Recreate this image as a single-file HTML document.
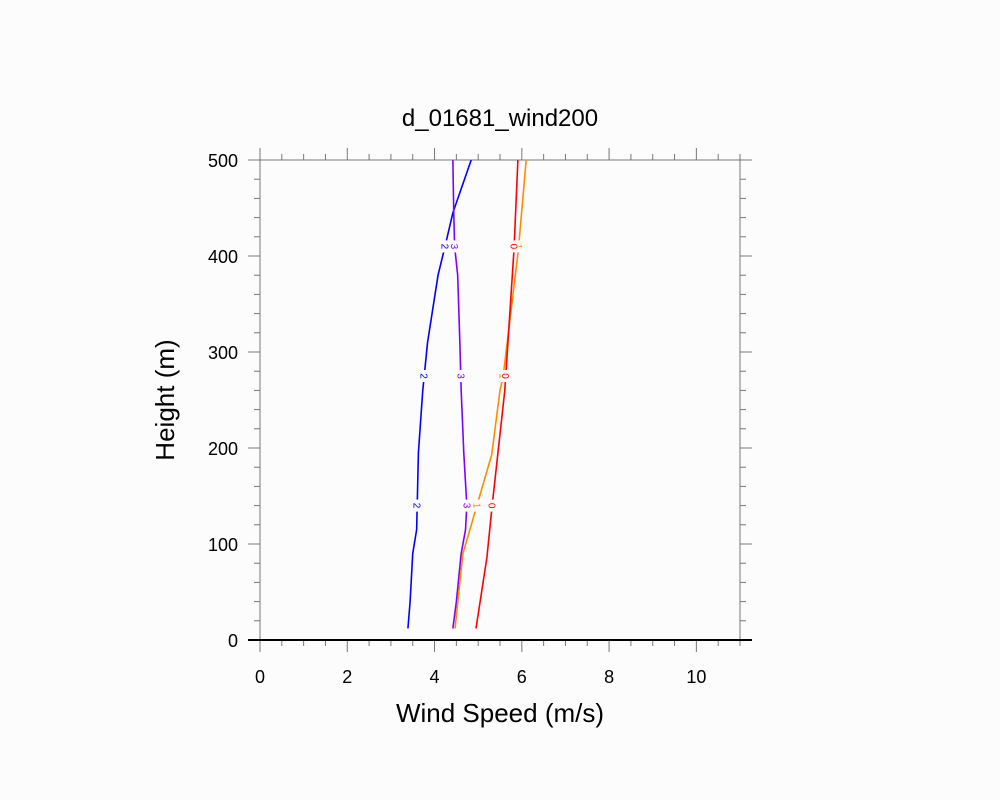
<!DOCTYPE html>
<html><head><meta charset="utf-8"><style>body{margin:0;background:#fcfcfc}svg{display:block}</style></head>
<body>
<svg id="chart" width="1000" height="800" xmlns="http://www.w3.org/2000/svg" font-family="Liberation Sans, sans-serif">
<rect width="1000" height="800" fill="#fcfcfc"/>
<text x="500" y="126" font-size="24" text-anchor="middle">d_01681_wind200</text>
<text x="500" y="722" font-size="26" text-anchor="middle">Wind Speed (m/s)</text>
<text x="174" y="400" font-size="26" text-anchor="middle" transform="rotate(-90 174 400)">Height (m)</text>
<g id="axes"></g>
<g id="series"></g>
</svg>
<script>
const xTicks=[0,2,4,6,8,10];
const yTicks=[0,100,200,300,400,500];
const blueH=[12,40,90,115,195,260,310,380,410,445,500];
const blueV=[3.39,3.44,3.5,3.59,3.63,3.73,3.84,4.08,4.24,4.42,4.84];
const purpleH=[12,40,90,115,140,195,260,310,380,410,445,500];
const purpleV=[4.42,4.5,4.61,4.71,4.74,4.67,4.61,4.58,4.53,4.46,4.44,4.42];
const orangeH=[12,90,140,193,260,274,406,500];
const orangeV=[4.47,4.65,4.97,5.31,5.5,5.57,5.92,6.1];
const redH=[12,86,140,260,274,406,500];
const redV=[4.95,5.2,5.32,5.61,5.63,5.82,5.91];
const labelH=[140,275,410];
const X=v=>260+v*480/11, Y=h=>640-h*0.96;
const NS="http://www.w3.org/2000/svg";
function mk(t,a,p){const e=document.createElementNS(NS,t);for(const k in a)e.setAttribute(k,a[k]);p.appendChild(e);return e;}
const ax=document.getElementById('axes');
const box=mk('rect',{x:260,y:160,width:480,height:480,fill:'none',stroke:'#777','stroke-width':1},ax);


for(let v=0;v<=11.001;v+=0.5){const maj=Math.abs(v/2-Math.round(v/2))<1e-6;const L=maj?12:6;
 mk('line',{x1:X(v),x2:X(v),y1:640,y2:640+L,stroke:'#777'},ax);
 mk('line',{x1:X(v),x2:X(v),y1:160,y2:160-L,stroke:'#777'},ax);}
for(let h=0;h<=500;h+=20){const maj=h%100===0;const L=maj?12:6;
 mk('line',{x1:260,x2:260-L,y1:Y(h),y2:Y(h),stroke:'#777'},ax);
 mk('line',{x1:740,x2:740+L,y1:Y(h),y2:Y(h),stroke:'#777'},ax);}
xTicks.forEach(v=>{const t=mk('text',{x:X(v),y:683,'font-size':18,'text-anchor':'middle'},ax);t.textContent=v;
 
 });
yTicks.forEach(h=>{const t=mk('text',{x:238,y:Y(h)+7,'font-size':18,'text-anchor':'end'},ax);t.textContent=h;
 
 });
const base=mk('line',{x1:248,x2:752,y1:640,y2:640,stroke:'#000','stroke-width':2},ax);


const sg=document.getElementById('series');
function interp(H,V,h){for(let i=0;i<H.length-1;i++){if(h>=H[i]&&h<=H[i+1]){const f=(h-H[i])/(H[i+1]-H[i]);return V[i]+f*(V[i+1]-V[i]);}}return V[V.length-1];}
function series(H,V,col,lab,name){
 const p=mk('polyline',{points:H.map((h,i)=>X(V[i])+','+Y(h)).join(' '),fill:'none',stroke:col,'stroke-width':1.6},sg);
 
 
 labelH.forEach(h=>{const x=X(interp(H,V,h)),y=Y(h);
  mk('rect',{x:x-4.5,y:y-6,width:9,height:12,fill:'#fcfcfc'},sg);
  const t=mk('text',{x:x,y:y+3.5,'font-size':10,fill:col,'text-anchor':'middle',transform:`rotate(90 ${x} ${y})`},sg);t.textContent=lab;
  
  });
}
series(blueH,blueV,'#0000ff','2','line-2');
series(purpleH,purpleV,'#8000ff','3','line-3');
series(orangeH,orangeV,'#ff8c00','1','line-1');
series(redH,redV,'#ff0000','0','line-0');
</script>
</body></html>
